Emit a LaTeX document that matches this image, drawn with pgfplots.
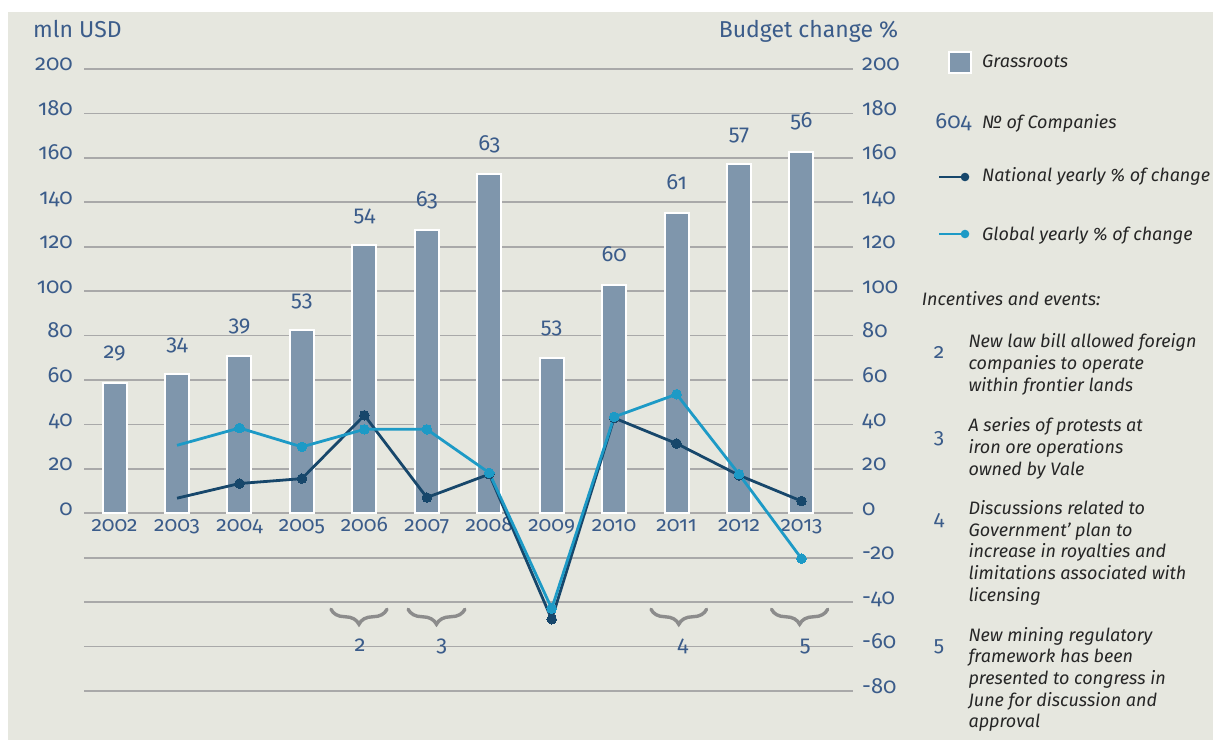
\documentclass[border=0pt]{standalone}
\usepackage{fontspec}
\setmainfont{Fira Sans}[Numbers=OldStyle]
\usepackage{pgfplots}
\usepackage{pgfplotstable}
\pgfplotsset{compat=1.18}
\usetikzlibrary{decorations.pathreplacing}
\definecolor{bg}{HTML}{E6E7DF}
\definecolor{barc}{HTML}{7F96AC}
\definecolor{txtb}{HTML}{3B5C8A}
\definecolor{natc}{HTML}{17476B}
\definecolor{gloc}{HTML}{1D9AC6}
\definecolor{gridc}{HTML}{A9A9A9}
\definecolor{bracec}{HTML}{8C8C8C}
\definecolor{dark}{HTML}{262626}

\pgfplotstableread{
year value n
2002 58.7 29
2003 62.5 34
2004 71.0 39
2005 82.4 53
2006 120.7 54
2007 127.5 63
2008 152.6 63
2009 70.0 53
2010 102.7 60
2011 135.0 61
2012 157.2 57
2013 162.7 56
}\grassrootstab

\pgfplotstableread{
year value
2003 6.8
2004 13.4
2005 15.6
2006 44.1
2007 7.1
2008 17.6
2009 -47.7
2010 42.9
2011 31.4
2012 17.1
2013 5.5
}\nationaltab

\pgfplotstableread{
year value
2003 30.6
2004 38.4
2005 29.9
2006 37.8
2007 37.8
2008 18.2
2009 -42.9
2010 43.4
2011 53.6
2012 17.6
2013 -20.4
}\globaltab

\newcommand{\tickfont}{\fontsize{22}{26}\selectfont}
\newcommand{\legfont}{\fontsize{18}{22}\selectfont\itshape}
\newcommand{\evfont}{\fontsize{18}{21.7}\selectfont\itshape}

\tikzset{evbrace/.style={draw=bracec, line width=3.4pt, line cap=round, decorate,
  decoration={brace, amplitude=15pt}}}

\begin{document}
\begin{tikzpicture}[x=1pt,y=1pt]
\path[use as bounding box] (0,0) rectangle (1213,740);
\fill[bg] (8,0) rectangle (1213,728);

\pgfplotsset{common/.style={at={(84pt,49pt)}, anchor=south west, scale only axis,
  width=769pt, height=622pt, xmin=2001.51, xmax=2013.825, ymin=-80, ymax=200,
  clip=false, /pgf/number format/assume math mode=true,
  /pgf/number format/1000 sep={}, major tick length=0pt}}

% background grid and right labels
\begin{axis}[common, hide x axis, axis y line*=right, axis line style={draw=none},
  ytick={-80,-60,...,200}, ymajorgrids, grid style={gridc, line width=1.8pt},
  yticklabel style={anchor=base west, inner sep=0pt, xshift=9pt, yshift=-2pt,
  text=txtb, font=\tickfont}]
\addplot[draw=none] coordinates {(2005,0)};
\end{axis}

% main axis
\begin{axis}[common, axis x line*=bottom, axis y line*=left, axis line style={draw=none},
  ytick={0,20,...,200}, xtick={2002,2003,...,2013},
  yticklabel style={anchor=base east, inner sep=0pt, xshift=-11pt, yshift=-2pt,
  text=txtb, font=\tickfont},
  xticklabel style={anchor=base, inner sep=0pt, yshift=160pt, text=txtb, font=\fontsize{21}{25}\selectfont}]

\addplot[ybar, bar width=24pt, fill=barc, draw=white, line width=2pt,
  nodes near coords, point meta=explicit symbolic,
  every node near coord/.append style={anchor=base, inner sep=0pt, yshift=24pt,
  text=txtb, font=\fontsize{22}{26}\selectfont}]
  table[x=year, y=value, meta=n] {\grassrootstab};

\addplot[natc, line width=2.8pt, line join=round, mark=none] table[x=year, y=value] {\nationaltab};
\addplot[natc, only marks, mark=*, mark size=4.8pt, mark options={fill=natc, draw=natc, line width=0pt},
  skip coords between index={0}{1}] table[x=year, y=value] {\nationaltab};
\addplot[gloc, line width=2.8pt, line join=round, mark=none] table[x=year, y=value] {\globaltab};
\addplot[gloc, only marks, mark=*, mark size=4.8pt, mark options={fill=gloc, draw=gloc, line width=0pt},
  skip coords between index={0}{1}] table[x=year, y=value] {\globaltab};

% braces
\path[evbrace] (axis cs:2006.362,-43.2) -- (axis cs:2005.465,-43.2);
\path[evbrace] (axis cs:2007.61,-43.2) -- (axis cs:2006.70,-43.2);
\path[evbrace] (axis cs:2011.48,-43.2) -- (axis cs:2010.59,-43.2);
\path[evbrace] (axis cs:2013.42,-43.2) -- (axis cs:2012.52,-43.2);
\node[anchor=base, inner sep=0pt, text=txtb, font=\fontsize{22}{26}\selectfont] at (axis cs:2005.93,-62.1) {2};
\node[anchor=base, inner sep=0pt, text=txtb, font=\fontsize{22}{26}\selectfont] at (axis cs:2007.24,-62.1) {3};
\node[anchor=base, inner sep=0pt, text=txtb, font=\fontsize{22}{26}\selectfont] at (axis cs:2011.10,-62.1) {4};
\node[anchor=base, inner sep=0pt, text=txtb, font=\fontsize{22}{26}\selectfont] at (axis cs:2013.06,-62.1) {5};
\end{axis}

% axis titles
\node[anchor=base west, inner sep=0pt, text=txtb, font=\fontsize{23}{27}\selectfont] at (33,702.7) {mln USD};
\node[anchor=base east, inner sep=0pt, text=txtb, font=\fontsize{23}{27}\selectfont] at (898.3,702.7) {Budget change \%};

% legend
\filldraw[fill=barc, draw=white, line width=2pt] (949,667) rectangle (971,688);
\node[anchor=base west, inner sep=0pt, text=dark, font=\legfont] at (982,672.3) {Grassroots};
\node[anchor=base east, inner sep=0pt, text=txtb, font=\fontsize{22}{26}\selectfont] at (971.7,611) {604};
\node[anchor=base west, inner sep=0pt, text=dark, font=\legfont] at (982,611) {№ of Companies};
\draw[natc, line width=2.5pt] (939,563) -- (965,563);
\fill[natc] (965,563) circle (4.3);
\node[anchor=base west, inner sep=0pt, text=dark, font=\legfont] at (982,558.3) {National yearly \% of change};
\draw[gloc, line width=2.5pt] (939,506) -- (965,506);
\fill[gloc] (965,506) circle (4.3);
\node[anchor=base west, inner sep=0pt, text=dark, font=\legfont] at (982,499.3) {Global yearly \% of change};
\node[anchor=base west, inner sep=0pt, text=dark, font=\evfont] at (921.7,434) {Incentives and events:};

% events
\begin{scope}[every node/.style={anchor=base west, inner sep=0pt, text=dark, font=\evfont}]
\node at (968.3,392) {New law bill allowed foreign};
\node at (968.3,370.3) {companies to operate};
\node at (968.3,348.6) {within frontier lands};
\node at (968.3,308.3) {A series of protests at};
\node at (968.3,286.6) {iron ore operations};
\node at (968.3,264.9) {owned by Vale};
\node at (968.3,225.7) {Discussions related to};
\node at (968.3,204) {Government’ plan to};
\node at (968.3,182.3) {increase in royalties and};
\node at (968.3,160.6) {limitations associated with};
\node at (968.3,138.9) {licensing};
\node at (968.3,99) {New mining regulatory};
\node at (968.3,77.3) {framework has been};
\node at (968.3,55.6) {presented to congress in};
\node at (968.3,33.9) {June for discussion and};
\node at (968.3,12.2) {approval};
\end{scope}
\begin{scope}[every node/.style={anchor=base, inner sep=0pt, text=txtb, font=\fontsize{21}{25}\selectfont}]
\node at (939,381) {2};
\node at (939,297) {3};
\node at (939,215) {4};
\node at (939,89) {5};
\end{scope}
\end{tikzpicture}
\end{document}
